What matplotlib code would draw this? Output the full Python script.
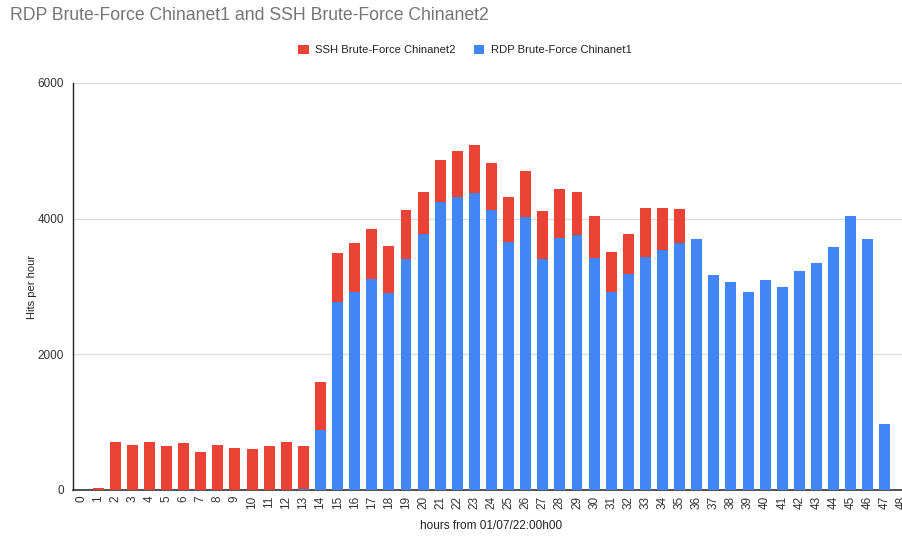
import matplotlib
matplotlib.use("Agg")
import matplotlib.pyplot as plt

plt.rcParams['font.family'] = ['Liberation Sans', 'DejaVu Sans']

hours = [str(h) for h in range(49)]

# RDP Brute-Force Chinanet1 (bottom, blue)
rdp = [0, 0, 0, 0, 0, 0, 0, 0, 0, 0, 0, 0, 0, 15, 889,
       2767, 2914, 3111, 2899, 3406, 3774, 4246, 4320, 4379, 4123,
       3651, 4020, 3406, 3720, 3754, 3425, 2924, 3184, 3435, 3533,
       3637, 3696, 3170, 3062, 2914, 3091, 2998, 3224, 3347, 3587,
       4040, 3696, 973, 0]

# SSH Brute-Force Chinanet2 (stacked on top, red)
ssh = [0, 30, 712, 659, 712, 644, 688, 555, 659, 619, 604, 644, 703, 629, 708,
       722, 732, 737, 693, 722, 624, 624, 683, 702, 693,
       669, 688, 712, 722, 634, 610, 590, 595, 722, 624,
       506, 0, 0, 0, 0, 0, 0, 0, 0, 0,
       0, 0, 0, 0]

red = '#EA4335'
blue = '#4285F4'

fig = plt.figure(figsize=(9.02, 5.42), dpi=100)
ax = fig.add_axes([72.5 / 902, 52 / 542, 838 / 902, 407 / 542])

x = list(range(len(hours)))
b1 = ax.bar(x, rdp, width=0.64, color=blue, label='RDP Brute-Force Chinanet1', zorder=3)
b2 = ax.bar(x, ssh, width=0.64, bottom=rdp, color=red, label='SSH Brute-Force Chinanet2', zorder=3)

ax.set_xlim(-0.5, 48.5)
ax.set_ylim(0, 6000)
ax.set_yticks([0, 2000, 4000, 6000])
ax.set_xticks(x)
ax.set_xticklabels(hours, rotation=90, fontsize=8.5, color='#333333')
ax.tick_params(axis='y', labelsize=8.5, labelcolor='#333333', length=0, pad=6)
ax.tick_params(axis='x', length=0, pad=4)
ax.grid(axis='y', color='#dcdcdc', linewidth=1, zorder=0)

for s in ['top', 'right']:
    ax.spines[s].set_visible(False)
ax.spines['left'].set_color('#222222')
ax.spines['left'].set_linewidth(1)
ax.spines['bottom'].set_color('#333333')
ax.spines['bottom'].set_linewidth(1.2)

ax.set_ylabel('Hits per hour', fontsize=8, color='#222222')
ax.yaxis.set_label_coords(-35 / 838, 0.5)
ax.set_xlabel('hours from 01/07/22:00h00', fontsize=8.5, color='#222222')
ax.xaxis.set_label_coords(0.5, -30 / 407)

fig.text(10 / 902, 1 - 15 / 542, 'RDP Brute-Force Chinanet1 and SSH Brute-Force Chinanet2',
         fontsize=12.7, color='#757575', ha='left', va='center')

fig.legend(handles=[b2, b1], labels=['SSH Brute-Force Chinanet2', 'RDP Brute-Force Chinanet1'],
           loc='center', bbox_to_anchor=(465 / 902, 1 - 50 / 542), ncol=2, frameon=False,
           fontsize=8.1, handlelength=0.9, handleheight=0.9, handletextpad=0.6,
           columnspacing=1.6, labelcolor='#222222')

fig.savefig('out.png', dpi=100)
